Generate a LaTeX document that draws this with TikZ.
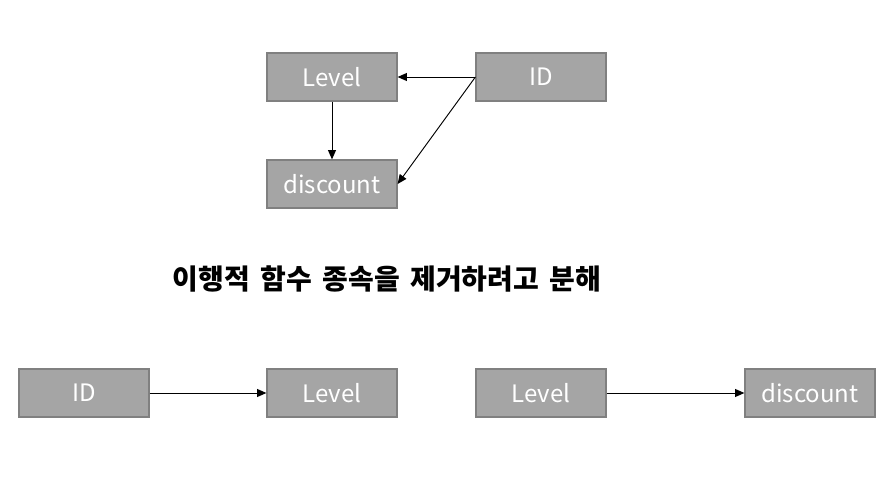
\documentclass[tikz,border=0pt]{standalone}
\usepackage{fontspec}
\setmainfont{Noto Sans CJK KR}
\usetikzlibrary{arrows.meta}
\begin{document}
\begin{tikzpicture}[x=0.75pt,y=-0.75pt]
    \definecolor{mybox}{RGB}{165,165,165}
    \definecolor{myedge}{RGB}{128,128,128}
    \tikzset{
        attr/.style={draw=myedge, fill=mybox, line width=0.9pt, minimum width=97.5pt, minimum height=36pt,
            inner sep=0pt, text=white, font=\fontsize{18}{21}\selectfont},
        dep/.style={-{Triangle[length=7pt,width=6pt]}, line width=0.7pt}
    }
    \useasboundingbox (0,0) rectangle (896,477);

    % before decomposition
    \node[attr] (lv) at (332,77) {Level};
    \node[attr] (id) at (541,77) {ID};
    \node[attr] (dc) at (332,184) {discount};
    \draw[dep] (id.west) -- (lv.east);
    \draw[dep] (id.west) -- (dc.east);
    \draw[dep] (lv.south) -- (dc.north);

    \node[font=\fontsize{21}{25}\selectfont\bfseries] (title) at (387,279)
        {이행적\hspace{0.15em} 함수\hspace{0.15em} 종속을\hspace{0.15em} 제거하려고\hspace{0.15em} 분해};

    % after decomposition
    \node[attr] (id2) at (84,393) {ID};
    \node[attr] (lv2) at (332,393) {Level};
    \node[attr] (lv3) at (541,393) {Level};
    \node[attr] (dc3) at (810,393) {discount};
    \draw[dep] (id2.east) -- (lv2.west);
    \draw[dep] (lv3.east) -- (dc3.west);
\end{tikzpicture}
\end{document}
